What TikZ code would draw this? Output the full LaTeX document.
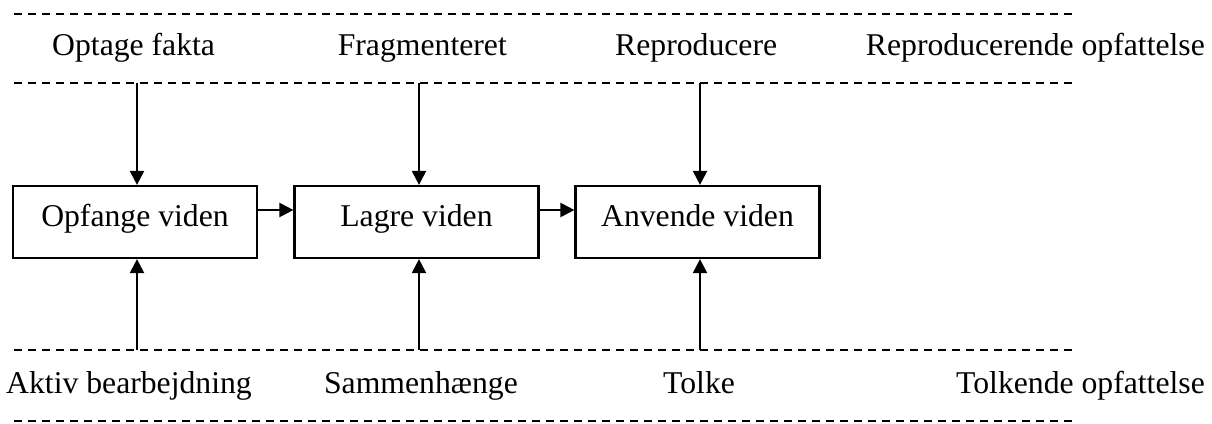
\documentclass[tikz,border=0pt]{standalone}
\usepackage{fontspec}
\setmainfont{Liberation Serif}
\usetikzlibrary{arrows.meta}
\tikzset{
  box/.style={draw, line width=2.2pt, minimum width=244pt, minimum height=72pt, inner sep=0pt,
              text height=20pt, text depth=12pt},
  sep/.style={line width=2pt, dash pattern=on 8pt off 6pt},
  flow/.style={line width=2.2pt, -{Triangle[length=14pt,width=14pt]}},
  lbl/.style={inner sep=0pt}
}
\begin{document}
\begin{tikzpicture}[x=1pt, y=-1pt, font=\fontsize{31.7}{38}\selectfont]
\useasboundingbox (0,0) rectangle (1212,423);

% separator lines
\draw[sep] (14,14) -- (1073,14);
\draw[sep] (14,83) -- (1073,83);
\draw[sep] (14,350) -- (1073,350);
\draw[sep] (14,421) -- (1073,421);

% upper row
\node[lbl, anchor=base west] (t1) at (52,55) {Optage fakta};
\node[lbl, anchor=base east] (t2) at (507,55) {Fragmenteret};
\node[lbl, anchor=base west] (t3) at (615,55) {Reproducere};
\node[lbl, anchor=base east] (t4) at (1205,55) {Reproducerende opfattelse};

% lower row
\node[lbl, anchor=base west] (u1) at (6,393) {Aktiv bearbejdning};
\node[lbl, anchor=base east] (u2) at (518,393) {Sammenhænge};
\node[lbl, anchor=base west] (u3) at (663,393) {Tolke};
\node[lbl, anchor=base east] (u4) at (1205,393) {Tolkende opfattelse};

% process boxes
\node[box] (b1) at (135,222) {Opfange viden};
\node[box] (b2) at (416.5,222) {Lagre viden};
\node[box] (b3) at (697.5,222) {Anvende viden};

% arrow starting points on the separator lines
\coordinate (a1) at (137,83);
\coordinate (a2) at (419,83);
\coordinate (a3) at (700,83);
\coordinate (c1) at (137,350);
\coordinate (c2) at (419,350);
\coordinate (c3) at (700,350);

% arrows from above
\draw[flow] (a1) -- (a1 |- b1.north);
\draw[flow] (a2) -- (a2 |- b2.north);
\draw[flow] (a3) -- (a3 |- b3.north);

% arrows from below
\draw[flow] (c1) -- (c1 |- b1.south);
\draw[flow] (c2) -- (c2 |- b2.south);
\draw[flow] (c3) -- (c3 |- b3.south);

% chain between boxes
\draw[flow] ([yshift=12pt]b1.east) -- ([yshift=12pt]b2.west);
\draw[flow] ([yshift=12pt]b2.east) -- ([yshift=12pt]b3.west);
\end{tikzpicture}
\end{document}
